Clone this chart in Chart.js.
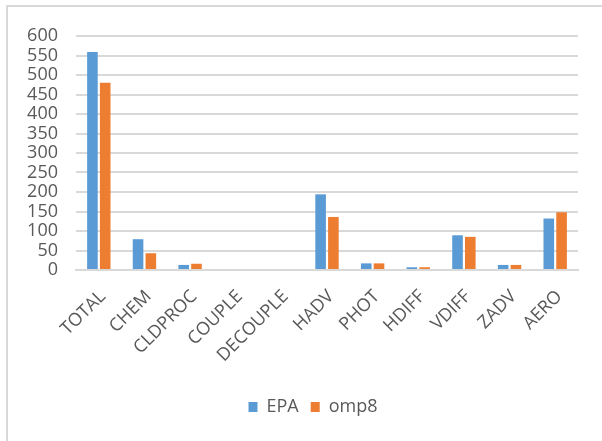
<!DOCTYPE html>
<html>
<head>
<meta charset="utf-8">
<script src="https://cdn.jsdelivr.net/npm/chart.js@4"></script>
<style>
	html, body { margin: 0; padding: 0; background: #fff; }
	#wrap { position: relative; width: 602px; height: 441px; }
	#frame { position: absolute; left: 6px; top: 5px; right: 0; bottom: 0; border-top: 2px solid #d9d9d9; border-left: 2px solid #d9d9d9; }
	canvas { position: absolute; left: 0; top: 0; }
</style>
</head>
<body>
<div id="wrap">
	<div id="frame"></div>
	<canvas id="chart" width="602" height="441"></canvas>
</div>
<script>
const categories = ['TOTAL', 'CHEM', 'CLDPROC', 'COUPLE', 'DECOUPLE', 'HADV', 'PHOT', 'HDIFF', 'VDIFF', 'ZADV', 'AERO'];
const epa = [559, 79, 13, 0, 0, 194, 17, 7, 89, 13, 132];
const omp8 = [480, 43, 16, 0, 0, 136, 17, 7, 85, 13, 148];

const font = {family: 'Open Sans, Liberation Sans, sans-serif', size: 18};

// legend in the original sits a bit right of the canvas middle
const shiftLegend = {
	id: 'shiftLegend',
	afterLayout(chart) {
		chart.legend.left += 14;
		chart.legend.right += 14;
	}
};

const config = {
	type: 'bar',
	data: {
		labels: categories,
		datasets: [
			{
				label: 'EPA',
				data: epa,
				backgroundColor: '#5b9bd5',
				categoryPercentage: 0.56,
				barPercentage: 0.83
			},
			{
				label: 'omp8',
				data: omp8,
				backgroundColor: '#ed7d31',
				categoryPercentage: 0.56,
				barPercentage: 0.83
			}
		]
	},
	options: {
		responsive: false,
		animation: false,
		layout: {
			padding: {left: 20, right: 24, top: 36, bottom: 15}
		},
		scales: {
			y: {
				min: 0,
				max: 600,
				afterFit: s => { s.width = 56; },
				ticks: {stepSize: 50, autoSkip: false, color: '#595959', font: font, padding: 18},
				grid: {color: '#d9d9d9', lineWidth: 2, drawTicks: false},
				border: {display: false}
			},
			x: {
				afterFit: s => { s.height = 116; },
				ticks: {color: '#595959', font: font, autoSkip: false, maxRotation: 45, minRotation: 45, padding: 16, labelOffset: 4},
				grid: {display: false, drawTicks: false},
				border: {color: '#d9d9d9', width: 2}
			}
		},
		plugins: {
			tooltip: {enabled: false},
			legend: {
				position: 'bottom',
				labels: {
					color: '#595959',
					font: font,
					boxWidth: 9,
					boxHeight: 10,
					padding: 12
				}
			}
		}
	},
	plugins: [shiftLegend]
};

new Chart(document.getElementById('chart'), config);
</script>
</body>
</html>
